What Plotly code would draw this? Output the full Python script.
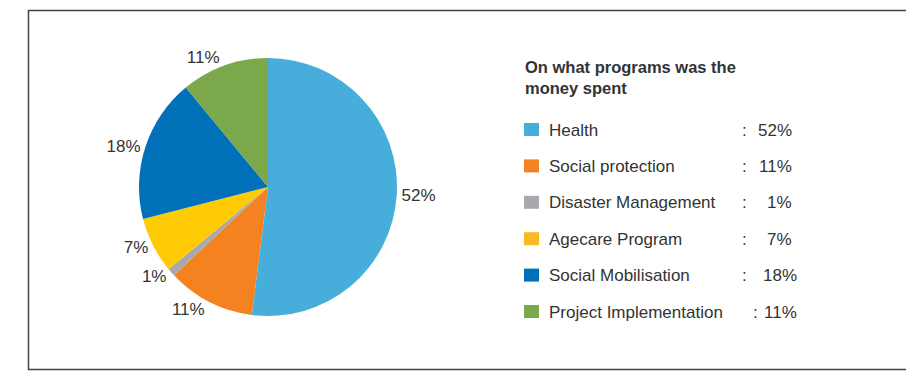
import plotly.graph_objects as go

categories = ["Health", "Social protection", "Disaster Management",
              "Agecare Program", "Social Mobilisation", "Project Implementation"]
values = [52, 11, 1, 7, 18, 11]
pct_labels = ["52%", "11%", "1%", "7%", "18%", "11%"]
colors = ["#47AEDB", "#F58220", "#A7A9AC", "#FFCB05", "#0070B8", "#7BA84B"]
legend_colors = ["#47AEDB", "#F58220", "#A7A9AC", "#F9B923", "#0070B8", "#7BA84B"]
legend_title = "On what programs was the<br>money spent"

W, H = 906, 375
FONT = "Liberation Sans, Arial, sans-serif"
TXT = "#333333"

cx, cy, r = 268, 187, 129

fig = go.Figure()
fig.add_trace(go.Pie(
    labels=categories,
    values=values,
    text=pct_labels,
    textinfo="text",
    textposition="outside",
    sort=False,
    direction="clockwise",
    rotation=0,
    marker=dict(colors=colors, line=dict(width=0)),
    textfont=dict(family=FONT, size=17, color=TXT),
    domain=dict(x=[(cx - r) / W, (cx + r) / W], y=[1 - (cy + r) / H, 1 - (cy - r) / H]),
    showlegend=False,
    hoverinfo="label+value",
))

shapes = [dict(type="rect", xref="paper", yref="paper",
               x0=28.5 / W, x1=(W + 5) / W, y0=1 - 369.5 / H, y1=1 - 10.5 / H,
               line=dict(color="#444444", width=1.5), fillcolor="rgba(0,0,0,0)")]
annotations = [dict(text="<b>" + legend_title + "</b>", x=523 / W, y=1 - 77 / H,
                    xref="paper", yref="paper", xanchor="left", yanchor="middle",
                    showarrow=False, align="left",
                    font=dict(family=FONT, size=16.5, color=TXT))]

row0, step = 130, 36.4
for i, (cat, pct, col) in enumerate(zip(categories, pct_labels, legend_colors)):
    yc = row0 + i * step
    shapes.append(dict(type="rect", xref="paper", yref="paper",
                       x0=524 / W, x1=539 / W, y0=1 - (yc + 6) / H, y1=1 - (yc - 7) / H,
                       line=dict(width=0), fillcolor=col))
    annotations.append(dict(text=cat, x=547 / W, y=1 - yc / H, xref="paper", yref="paper",
                            xanchor="left", yanchor="middle", showarrow=False,
                            font=dict(family=FONT, size=17, color=TXT)))
    colon_x = 755 if i == len(categories) - 1 else 744
    annotations.append(dict(text=":", x=colon_x / W, y=1 - yc / H, xref="paper", yref="paper",
                            xanchor="center", yanchor="middle", showarrow=False,
                            font=dict(family=FONT, size=17, color=TXT)))
    annotations.append(dict(text=pct, x=(799 if i >= 4 else 794) / W, y=1 - yc / H,
                            xref="paper", yref="paper",
                            xanchor="right", yanchor="middle", showarrow=False,
                            font=dict(family=FONT, size=17, color=TXT)))

fig.update_layout(
    width=W, height=H,
    margin=dict(l=0, r=0, t=0, b=0),
    paper_bgcolor="white", plot_bgcolor="white",
    shapes=shapes, annotations=annotations,
)
fig.write_html("out.html", config={"displayModeBar": False},
               post_script="document.body.style.margin='0';document.body.style.overflow='hidden';")
